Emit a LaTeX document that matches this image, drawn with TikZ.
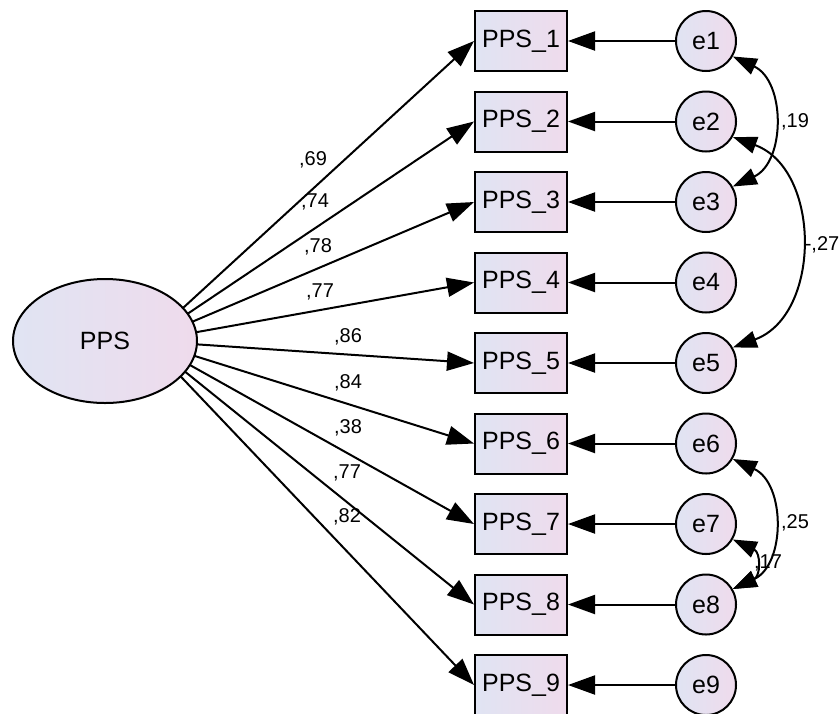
\documentclass[tikz,border=0pt]{standalone}
\usepackage{fontspec}
\setmainfont{Liberation Sans}
\usetikzlibrary{arrows.meta,shapes.geometric}

\definecolor{fillL}{RGB}{224,228,243}
\definecolor{fillR}{RGB}{239,219,236}

\begin{document}
\begin{tikzpicture}[x=1pt, y=1pt,
  every node/.style={font=\fontsize{25}{30}\selectfont},
  obs/.style={draw, line width=2pt, left color=fillL, right color=fillR,
    minimum width=92pt, minimum height=60pt, inner sep=0pt},
  err/.style={draw, circle, line width=2pt, left color=fillL, right color=fillR,
    minimum size=60pt, inner sep=0pt},
  lat/.style={draw, ellipse, line width=2pt, left color=fillL, right color=fillR,
    minimum width=184pt, minimum height=124pt, inner sep=0pt},
  wt/.style={font=\fontsize{20}{23}\selectfont, inner sep=0pt},
  load/.style={line width=2pt, -{Triangle[length=27pt,width=19pt]}},
  cov/.style={line width=2pt, {Triangle[length=24pt,width=17pt]}-{Triangle[length=24pt,width=17pt]}}]
  % page frame
  \useasboundingbox (0,0) rectangle (840,-713);

  % observed items
  \node[obs] (b1) at (521,-41) {PPS\_1};
  \node[obs] (b2) at (521,-121.5) {PPS\_2};
  \node[obs] (b3) at (521,-202) {PPS\_3};
  \node[obs] (b4) at (521,-282.5) {PPS\_4};
  \node[obs] (b5) at (521,-363) {PPS\_5};
  \node[obs] (b6) at (521,-443.5) {PPS\_6};
  \node[obs] (b7) at (521,-524) {PPS\_7};
  \node[obs] (b8) at (521,-604.5) {PPS\_8};
  \node[obs] (b9) at (521,-685) {PPS\_9};

  % error terms
  \node[err] (e1) at (706,-41) {e1};
  \node[err] (e2) at (706,-121.5) {e2};
  \node[err] (e3) at (706,-202) {e3};
  \node[err] (e4) at (706,-282.5) {e4};
  \node[err] (e5) at (706,-363) {e5};
  \node[err] (e6) at (706,-443.5) {e6};
  \node[err] (e7) at (706,-524) {e7};
  \node[err] (e8) at (706,-604.5) {e8};
  \node[err] (e9) at (706,-685) {e9};

  % loadings (start hidden under the factor)
  \coordinate (hub) at (147,-341);
  \draw[load] (hub) -- (b1.west);
  \draw[load] (hub) -- (b2.west);
  \draw[load] (hub) -- (b3.west);
  \draw[load] (hub) -- (b4.west);
  \draw[load] (hub) -- (b5.west);
  \draw[load] (hub) -- (b6.west);
  \draw[load] (hub) -- (b7.west);
  \draw[load] (hub) -- (b8.west);
  \draw[load] (hub) -- (b9.west);

  % latent factor
  \node[lat] (PPS) at (105,-341) {PPS};

  \node[wt] (w1) at (313,-160) {,69};
  \node[wt] (w2) at (315,-202) {,74};
  \node[wt] (w3) at (318,-247) {,78};
  \node[wt] (w4) at (320,-292) {,77};
  \node[wt] (w5) at (348,-337) {,86};
  \node[wt] (w6) at (348,-383) {,84};
  \node[wt] (w7) at (348,-428) {,38};
  \node[wt] (w8) at (347,-473) {,77};
  \node[wt] (w9) at (347,-517) {,82};

  % residual paths
  \draw[load] (e1) -- (b1);
  \draw[load] (e2) -- (b2);
  \draw[load] (e3) -- (b3);
  \draw[load] (e4) -- (b4);
  \draw[load] (e5) -- (b5);
  \draw[load] (e6) -- (b6);
  \draw[load] (e7) -- (b7);
  \draw[load] (e8) -- (b8);
  \draw[load] (e9) -- (b9);

  % error covariances
  \draw[cov] (e1.-30) to[out=-25, in=25, looseness=1.15] (e3.30);
  \draw[cov] (e2.-30) to[out=-20, in=20, looseness=1.15] (e5.30);
  \draw[cov] (e6.-30) to[out=-25, in=25, looseness=1.15] (e8.30);
  \draw[cov] (e7.-30) to[out=-25, in=25, looseness=1.6] (e8.30);

  \node[wt] (c1) at (795,-122) {,19};
  \node[wt] (c2) at (822,-245) {-,27};
  \node[wt] (c3) at (795,-523) {,25};
  \node[wt] (c4) at (768,-563) {,17};
\end{tikzpicture}
\end{document}
